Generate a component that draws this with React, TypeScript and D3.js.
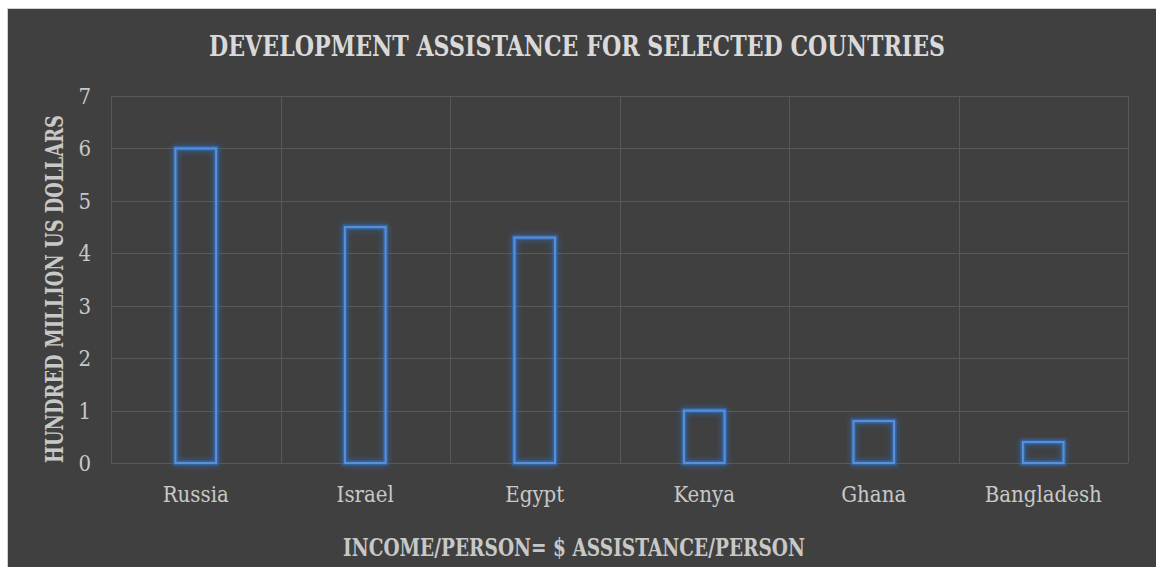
import React from "react";
import * as d3 from "d3";

const categories = ["Russia", "Israel", "Egypt", "Kenya", "Ghana", "Bangladesh"];
const values = [6, 4.5, 4.3, 1, 0.8, 0.4];
const yTicks = [0, 1, 2, 3, 4, 5, 6, 7];
const title = "DEVELOPMENT ASSISTANCE FOR SELECTED COUNTRIES";
const xTitle = "INCOME/PERSON= $ ASSISTANCE/PERSON";
const yTitle = "HUNDRED MILLION US DOLLARS";

const W = 1156;
const H = 567;
const plot = { left: 111, right: 1128, top: 96, bottom: 463 };
const FONT = "'DejaVu Serif Condensed', 'DejaVu Serif', serif";

export default function App() {
  const x = d3.scaleBand<string>().domain(categories).range([plot.left, plot.right]).padding(0);
  const y = d3.scaleLinear().domain([0, 7]).range([plot.bottom, plot.top]);
  const barW = x.step() * 0.24;
  return (
    <svg width={W} height={H} style={{ position: "absolute", left: 0, top: 0, display: "block" }}>
      <defs>
        <filter id="glow" x="-50%" y="-20%" width="200%" height="140%">
          <feGaussianBlur in="SourceGraphic" stdDeviation="3" result="b" />
          <feMerge>
            <feMergeNode in="b" />
            <feMergeNode in="SourceGraphic" />
          </feMerge>
        </filter>
      </defs>
      <rect x={0} y={0} width={W} height={H} fill="#ffffff" />
      <rect x={7.5} y={8.5} width={W} height={H} fill="#404040" stroke="#d0d0d0" strokeWidth={1} />
      {yTicks.map((t) => (
        <line key={"h" + t} x1={plot.left} x2={plot.right} y1={Math.round(y(t)) + 0.5} y2={Math.round(y(t)) + 0.5} stroke="#595959" strokeWidth={1} />
      ))}
      {categories.map((c) => (
        <line key={"v" + c} x1={Math.round(x(c)!) + 0.5} x2={Math.round(x(c)!) + 0.5} y1={plot.top} y2={plot.bottom} stroke="#595959" strokeWidth={1} />
      ))}
      <line x1={plot.right + 0.5} x2={plot.right + 0.5} y1={plot.top} y2={plot.bottom} stroke="#595959" strokeWidth={1} />
      {categories.map((c, i) => {
        const cx = x(c)! + x.bandwidth() / 2;
        return (
          <g key={"b" + c}>
            <rect
              x={cx - barW / 2}
              y={y(values[i])}
              width={barW}
              height={y(0) - y(values[i])}
              fill="none"
              stroke="#2f6fc4"
              strokeOpacity={0.6}
              strokeWidth={5}
              filter="url(#glow)"
            />
            <rect
              x={cx - barW / 2}
              y={y(values[i])}
              width={barW}
              height={y(0) - y(values[i])}
              fill="none"
              stroke="#5b8fd6"
              strokeWidth={2}
            />
          </g>
        );
      })}
      {yTicks.map((t) => (
        <text key={"t" + t} x={91} y={y(t) + 8} textAnchor="end" fill="#c8c8c8" fontFamily={FONT} fontSize={22}>
          {t}
        </text>
      ))}
      {categories.map((c) => (
        <text key={"l" + c} x={x(c)! + x.bandwidth() / 2} y={502} textAnchor="middle" fill="#c8c8c8" fontFamily={FONT} fontSize={22}>
          {c}
        </text>
      ))}
      <text x={209} y={56} textLength={736} lengthAdjust="spacingAndGlyphs" fill="#d9d9d9" fontFamily={FONT} fontSize={27} fontWeight="bold">
        {title}
      </text>
      <text x={343} y={556} textLength={462} lengthAdjust="spacingAndGlyphs" fill="#c8c8c8" fontFamily={FONT} fontSize={23.3} fontWeight="bold">
        {xTitle}
      </text>
      <text transform={`translate(63,463) rotate(-90)`} textLength={348} lengthAdjust="spacingAndGlyphs" fill="#c8c8c8" fontFamily={FONT} fontSize={23.3} fontWeight="bold">
        {yTitle}
      </text>
    </svg>
  );
}
